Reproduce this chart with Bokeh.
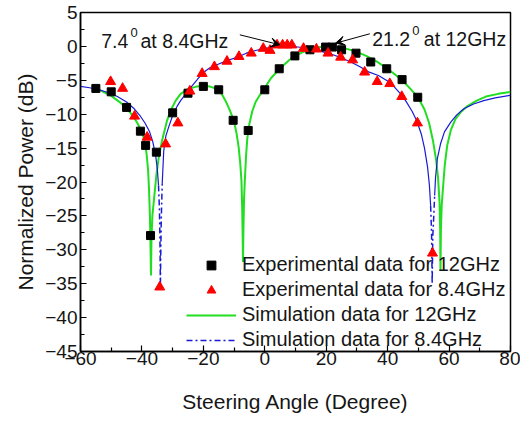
import numpy as np
from bokeh.plotting import figure
from bokeh.models import (Legend, LegendItem, Arrow, VeeHead, Label,
                          FixedTicker)
from bokeh.embed import file_html
from bokeh.resources import INLINE

# ---------------- data ----------------
exp12_x = [-55, -50, -45, -40.5, -38.8, -37.2, -35.3, -30, -25, -20, -15, -10.3,
           -5.4, 0, 4.7, 9.8, 14.7, 19.8, 22, 25, 29.7, 34.5, 39.7, 44.7, 49.8]
exp12_y = [-6.2, -6.7, -9.0, -12.5, -14.6, -27.9, -15.6, -9.8, -6.9, -5.9, -6.4, -10.9,
           -12.4, -6.4, -3.3, -1.4, -0.5, -0.1, -0.1, -0.5, -1.0, -2.3, -3.3, -4.9, -7.5]

exp84_x = [-50.2, -46.3, -42.4, -38.3, -34.2, -32.3, -28.3, -24.4, -20.4, -16.4, -12.3,
           -8.4, -4.4, -0.5, 1.7, 4.0, 5.8, 7.3, 8.8, 12.6, 16.8, 20.6, 24.7, 28.6,
           32.5, 36.6, 40.7, 44.6, 49.7, 54.6]
exp84_y = [-5.2, -6.2, -10.3, -13.4, -35.5, -14.4, -11.3, -6.6, -4.0, -3.0, -2.2,
           -1.5, -1.0, -0.3, -0.6, 0.2, 0.2, 0.2, 0.2, -0.3, -0.4, -1.0, -1.6, -2.0,
           -3.8, -5.2, -5.5, -7.4, -11.3, -30.5]

sim12_x = [-56, -53, -50, -47, -45, -43, -41.5, -40, -39, -38.5, -38, -37.7, -37.4,
           -37.2, -37.05, -36.9, -36.6, -36.1, -35.3, -34.5, -33.5, -32.5, -31.8,
           -30.5, -29, -27.4, -25, -22, -20, -18, -16, -14.4, -12.8, -11.5, -10.1,
           -9.2, -8.5, -8.0, -7.6, -7.35, -7.2, -7.1, -6.95, -6.75, -6.5, -6.1,
           -5.7, -5.0, -4.1, -3.0, -1.5, 0, 2, 4, 6, 8, 10, 12, 15, 18, 21, 24, 27,
           30, 33, 36, 39, 42, 45, 47.5, 50, 52, 53.5, 54.8, 55.8, 56.4, 56.9,
           57.1, 57.2, 57.35, 57.6, 58.0, 58.6, 59.4, 60.6, 62.1, 64, 66, 69, 72,
           76, 80]
sim12_y = [-6.0, -6.6, -7.3, -8.3, -9.1, -10.2, -11.3, -12.6, -14.2, -15.8, -18.2,
           -21.0, -25.0, -29.5, -33.8, -28.5, -25.0, -22.7, -19.0, -16.3, -14.0,
           -12.2, -10.9, -9.3, -8.0, -7.0, -6.3, -5.9, -5.8, -5.9, -6.2, -6.7, -8.0,
           -9.3, -10.9, -12.8, -14.9, -17.2, -19.8, -24.0, -28.0, -31.8, -27.0,
           -22.5, -19.8, -16.2, -13.6, -11.4, -9.6, -8.2, -7.1, -6.1, -4.7, -3.7,
           -2.8, -2.0, -1.4, -0.9, -0.4, -0.1, 0.0, -0.1, -0.4, -0.8, -1.4, -2.1,
           -3.0, -4.0, -5.1, -6.3, -7.6, -9.3, -11.3, -14.0, -16.8, -19.3, -23.0,
           -27.0, -33.1, -27.0, -23.5, -21.0, -17.5, -14.6, -12.3, -10.7, -9.6,
           -8.8, -8.0, -7.4, -7.0, -6.7]

sim84_x = [-60, -57, -54, -51, -48, -45, -42.5, -40.5, -39, -37.5, -36.5, -35.6,
           -35.0, -34.6, -34.3, -34.15, -34.05, -34.0, -33.85, -33.7, -33.4, -32.9,
           -32.2, -31.3, -30, -28.5, -27.4, -25.5, -24, -22, -20.4, -18, -15, -12.3,
           -9, -6, -3, 0, 3, 5, 7.4, 10, 13, 16, 19, 22, 25, 28, 31, 34, 37, 40, 42,
           44, 46, 48, 49.5, 51, 52, 53, 53.6, 54.0, 54.3, 54.5, 54.7, 55.0, 55.3,
           55.6, 56.2, 57.2, 58.5, 60.5, 62.5, 64.8, 68, 71.3, 75, 80]
sim84_y = [-5.9, -6.1, -6.4, -6.8, -7.4, -8.2, -9.2, -10.3, -11.3, -12.6, -14.0,
           -15.9, -18.0, -20.5, -24.0, -28.0, -32.0, -36.0, -30.0, -25.5, -20.3,
           -15.4, -13.2, -11.9, -10.2, -8.8, -8.0, -6.9, -6.0, -4.9, -4.0, -3.2,
           -2.6, -2.1, -1.6, -1.0, -0.6, -0.3, -0.1, 0.0, 0.0, -0.05, -0.2, -0.4,
           -0.8, -1.2, -1.7, -2.3, -3.0, -3.8, -4.3, -5.1, -5.9, -6.9, -8.1, -9.6,
           -11.0, -13.0, -15.0, -17.8, -20.5, -23.5, -27.5, -35.0, -28.0, -25.2,
           -22.0, -19.3, -16.5, -14.4, -12.6, -11.2, -10.1, -9.2, -8.5, -8.0, -7.6,
           -7.2]

x_ticks = [-60, -40, -20, 0, 20, 40, 60, 80]
y_ticks = [-45, -40, -35, -30, -25, -20, -15, -10, -5, 0, 5]

labels = ["Experimental data for 12GHz", "Experimental data for 8.4GHz",
          "Simulation data for 12GHz", "Simulation data for 8.4GHz"]

FONT = "Liberation Sans"
GREEN = "#22dd22"
BLUE = "#1a1ad6"
RED = "#ff0000"
TXT = "#151515"

p = figure(width=520, height=421, x_range=(-60, 80), y_range=(-45, 5),
           output_backend="svg", toolbar_location=None,
           min_border_left=80, min_border_right=10, min_border_top=12,
           min_border_bottom=70, background_fill_color="white",
           border_fill_color="white")
p.xgrid.grid_line_color = None
p.ygrid.grid_line_color = None
p.outline_line_color = "black"
p.outline_line_width = 1.5

p.xaxis.ticker = FixedTicker(ticks=x_ticks,
                             minor_ticks=[t + 10 for t in x_ticks[:-1]])
p.yaxis.ticker = FixedTicker(ticks=y_ticks,
                             minor_ticks=[t + 2.5 for t in y_ticks[:-1]])
for ax in (p.xaxis[0], p.yaxis[0]):
    ax.axis_line_width = 1.5
    ax.axis_line_color = "black"
    ax.major_tick_in = 6
    ax.major_tick_out = 0
    ax.minor_tick_in = 4
    ax.minor_tick_out = 0
    ax.major_tick_line_width = 1.2
    ax.minor_tick_line_width = 1.2
    ax.major_label_text_font = FONT
    ax.major_label_text_font_size = "19px"
    ax.major_label_text_color = TXT
    ax.axis_label_text_font = FONT
    ax.axis_label_text_font_size = "21px"
    ax.axis_label_text_font_style = "normal"
    ax.axis_label_text_color = TXT
p.xaxis.axis_label = "Steering Angle (Degree)"
p.yaxis.axis_label = "Normalized Power (dB)"
p.xaxis.major_label_standoff = 0
p.yaxis.major_label_standoff = 3
p.xaxis.axis_label_standoff = 22
p.yaxis.axis_label_standoff = 5

# simulation curves
g = p.line(sim12_x, sim12_y, line_color=GREEN, line_width=2)

bx = np.array(sim84_x, dtype=float)
by = np.array(sim84_y, dtype=float)
deep = by < -23.5
near = deep.copy()
near[1:] |= deep[:-1]
near[:-1] |= deep[1:]
solid_y = np.where(deep, np.nan, by)
dash_y = np.where(near, by, np.nan)
p.line(bx, solid_y, line_color=BLUE, line_width=1.2)
b = p.line(bx, dash_y, line_color=BLUE, line_width=1.5, line_dash="6 3 2 3")

# experimental data
sq = p.scatter(exp12_x, exp12_y, marker="square", size=8, fill_color="black",
               line_color="black")
tr = p.scatter(exp84_x, exp84_y, marker="triangle", size=10, fill_color=RED,
               line_color=RED)

legend = Legend(items=[LegendItem(label=labels[0], renderers=[sq]),
                       LegendItem(label=labels[1], renderers=[tr]),
                       LegendItem(label=labels[2], renderers=[g]),
                       LegendItem(label=labels[3], renderers=[b])],
                location=(106, 0), border_line_color=None,
                background_fill_alpha=0, padding=0, margin=0, spacing=2,
                glyph_width=50, glyph_height=22, label_height=22,
                label_standoff=6, label_text_font=FONT,
                label_text_font_size="20px", label_text_color=TXT)
p.add_layout(legend)

# annotations
def lab(x, y, t, size):
    p.add_layout(Label(x=x, y=y, text=t, text_font=FONT, text_font_size=size,
                       text_color=TXT, text_baseline="alphabetic",
                       text_align="left"))

lab(-53.26, 0.77, "7.4", "19.5px")
lab(-43.72, 2.09, "0", "13px")
lab(-40.47, 0.77, "at 8.4GHz", "19.5px")
lab(34.97, 1.12, "21.2", "19.5px")
lab(47.99, 2.35, "0", "13px")
lab(51.77, 1.12, "at 12GHz", "19.5px")

p.add_layout(Arrow(end=VeeHead(size=9, line_color="black", fill_color="black"),
                   x_start=-8.13, y_start=1.71, x_end=4.89, y_end=0.24,
                   line_width=1))
p.add_layout(Arrow(end=VeeHead(size=9, line_color="black", fill_color="black"),
                   x_start=34.19, y_start=1.86, x_end=23.02, y_end=0.47,
                   line_width=1))

open("out.html", "w").write(file_html(p, INLINE))
